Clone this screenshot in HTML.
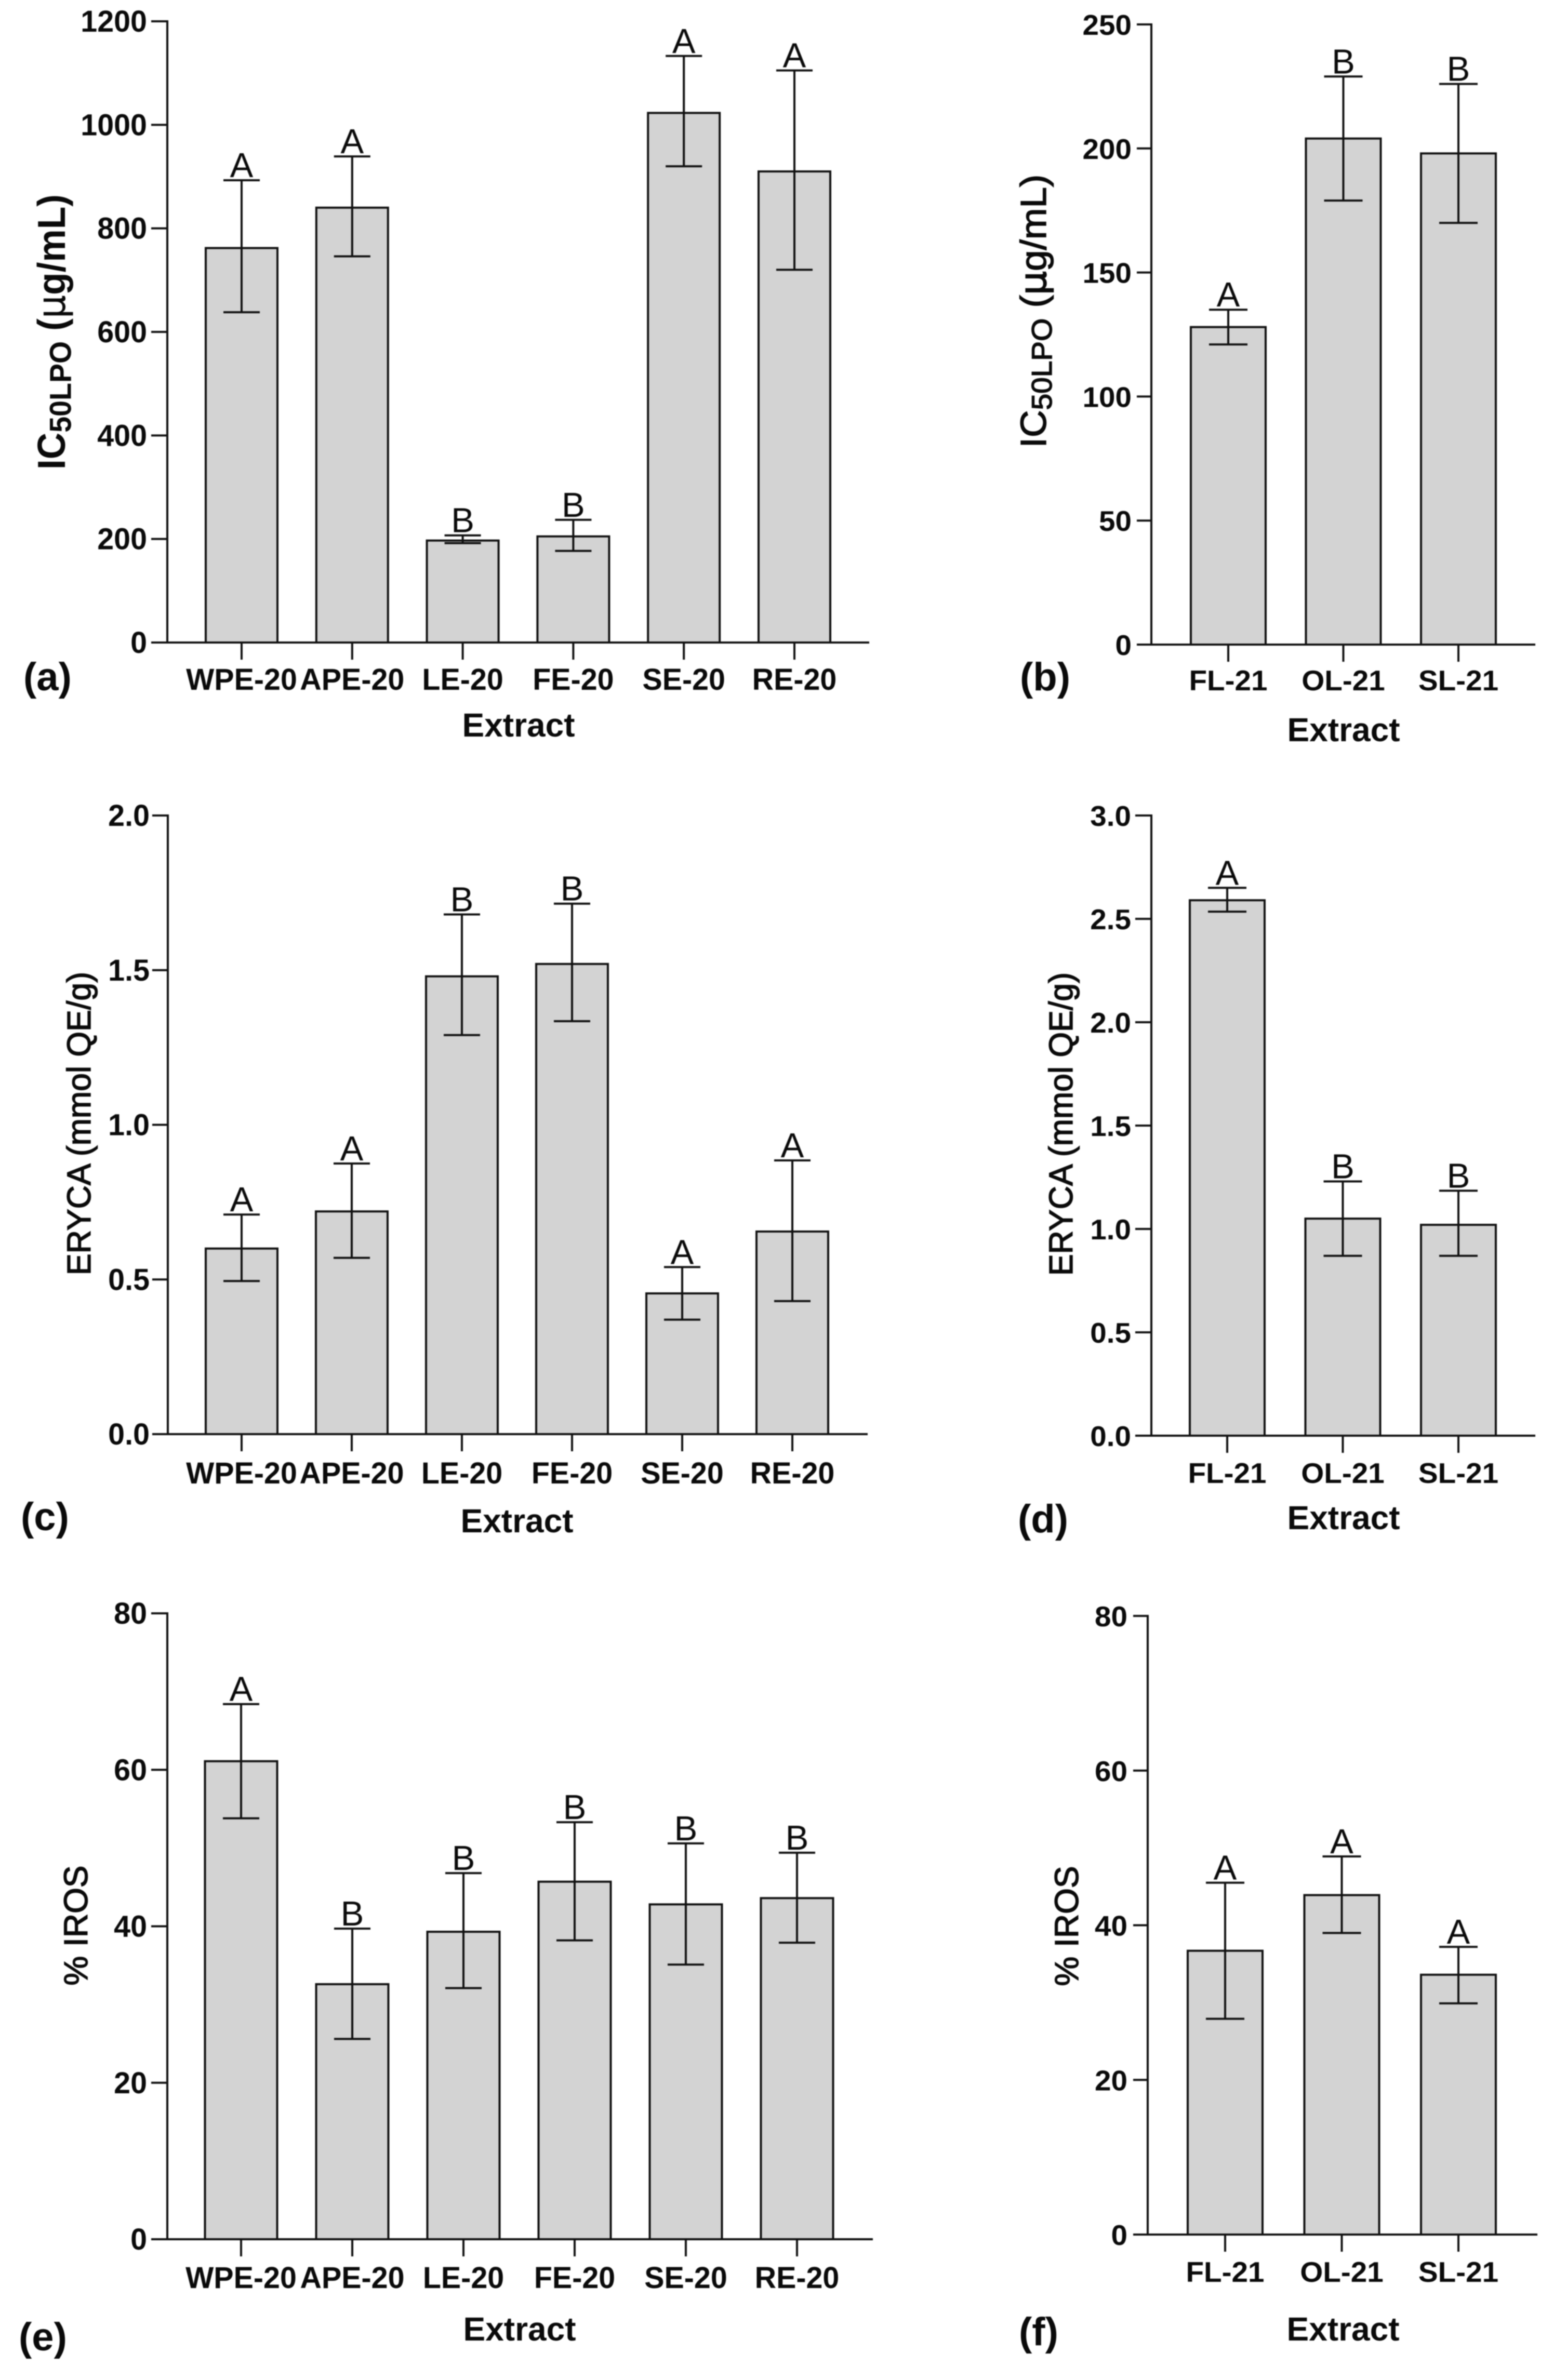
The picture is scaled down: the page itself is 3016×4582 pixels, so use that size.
<!DOCTYPE html>
<html lang="en">
<head>
<meta charset="utf-8">
<title>Antioxidant activity bar charts</title>
<style>
html,body{margin:0;padding:0;background:#fff;width:3016px;height:4582px;overflow:hidden}
svg{display:block;filter:blur(1px)}
text{font-family:"Liberation Sans",Arial,sans-serif;fill:#0a0a0a}
</style>
</head>
<body>
<svg id="figure" xmlns="http://www.w3.org/2000/svg" width="3016" height="4582" viewBox="0 0 3016 4582"></svg>
<script>
const cats20 = ['WPE-20','APE-20','LE-20','FE-20','SE-20','RE-20'];
const cats21 = ['FL-21','OL-21','SL-21'];

const aTicks = ['0','200','400','600','800','1000','1200'];
const aMeans = [762,840,197,205,1023,910];
const aUpper = [893,939,207,237,1133,1105];
const aLower = [638,746,192,177,920,720];
const aLetters = ['A','A','B','B','A','A'];

const bTicks = ['0','50','100','150','200','250'];
const bMeans = [128,204,198];
const bUpper = [135,229,226];
const bLower = [121,179,170];
const bLetters = ['A','B','B'];

const cTicks = ['0.0','0.5','1.0','1.5','2.0'];
const cMeans = [0.60,0.72,1.48,1.52,0.455,0.655];
const cUpper = [0.71,0.875,1.68,1.715,0.54,0.885];
const cLower = [0.495,0.57,1.29,1.335,0.37,0.43];
const cLetters = ['A','A','B','B','A','A'];

const dTicks = ['0.0','0.5','1.0','1.5','2.0','2.5','3.0'];
const dMeans = [2.59,1.05,1.02];
const dUpper = [2.65,1.23,1.185];
const dLower = [2.535,0.87,0.87];
const dLetters = ['A','B','B'];

const eTicks = ['0','20','40','60','80'];
const eMeans = [61.1,32.6,39.3,45.7,42.8,43.6];
const eUpper = [68.4,39.7,46.8,53.3,50.6,49.4];
const eLower = [53.8,25.6,32.1,38.2,35.1,37.9];
const eLetters = ['A','B','B','B','B','B'];

const fTicks = ['0','20','40','60','80'];
const fMeans = [36.7,43.9,33.6];
const fUpper = [45.5,48.9,37.2];
const fLower = [27.9,39,29.9];
const fLetters = ['A','A','A'];

const NS = 'http://www.w3.org/2000/svg';
const root = document.getElementById('figure');

function el(parent, tag, attrs) {
  const n = document.createElementNS(NS, tag);
  for (const k in attrs) n.setAttribute(k, attrs[k]);
  parent.appendChild(n);
  return n;
}
function line(parent, x1, y1, x2, y2, w, name) {
  const n = el(parent, 'line', {x1, y1, x2, y2, stroke:'#111', 'stroke-width':w});
  
  
  return n;
}
function label(parent, x, y, str, size, weight, anchor, sx, name) {
  const n = el(parent, 'text', {
    transform:'translate(' + x + ' ' + y + ') scale(' + sx + ' 1)',
    'font-size':size, 'font-weight':weight, 'text-anchor':anchor
  });
  n.textContent = str;
  
  
  return n;
}
function yTitle(parent, x, y, size, weight, sx, strokeW, markup, name) {
  const n = el(parent, 'text', {
    transform:'translate(' + x + ' ' + y + ') rotate(-90) scale(' + sx + ' 1)',
    'font-size':size, 'font-weight':weight, 'text-anchor':'middle',
    stroke:'#0a0a0a', 'stroke-width':strokeW
  });
  n.innerHTML = markup;
  
  
  return n;
}

const IC = 'IC<tspan font-size="0.78em" dy="0.2em">50LPO</tspan><tspan dy="-0.156em"> (</tspan><tspan font-family="DejaVu Sans" font-weight="normal">μ</tspan>g/mL)';
const ERY = 'ERYCA (mmol QE/g)';
const IROS = '% IROS';

function drawPanel(p) {
  const g = el(root, 'g', {});
  
  
  const maxV = Number(p.ticks[p.ticks.length - 1]);
  const yOf = v => p.y0 - (v / maxV) * (p.y0 - p.top);
  const xOf = i => p.first + i * p.step;

  p.means.forEach((m, i) => {
    const cx = xOf(i);
    const bar = el(g, 'rect', {x:cx - p.barW / 2, y:yOf(m), width:p.barW, height:p.y0 - yOf(m), fill:'#d3d3d3', stroke:'#111', 'stroke-width':4});
    
    
  });
  p.means.forEach((m, i) => {
    const cx = xOf(i), yu = yOf(p.upper[i]), yl = yOf(p.lower[i]);
    line(g, cx, yu, cx, yl, 4, 'error-bar-' + p.cats[i].toLowerCase());
    line(g, cx - p.cap, yu, cx + p.cap, yu, 4, 'error-cap-upper-' + p.cats[i].toLowerCase());
    line(g, cx - p.cap, yl, cx + p.cap, yl, 4, 'error-cap-lower-' + p.cats[i].toLowerCase());
    label(g, cx, yu - 6, p.letters[i], 67, 'normal', 'middle', 1, 'significance-letter-' + p.cats[i].toLowerCase());
    line(g, cx, p.y0, cx, p.y0 + 33, 4, 'x-tick-' + p.cats[i].toLowerCase());
    label(g, cx, p.xLabelY, p.cats[i], p.font, 'bold', 'middle', p.sx, 'x-tick-label-' + p.cats[i].toLowerCase());
  });

  line(g, p.axisX, p.top - 2, p.axisX, p.y0 + 2, 4, 'y-axis');
  line(g, p.tickL, p.y0, p.xEnd, p.y0, 4, 'x-axis');
  p.ticks.forEach(t => {
    const y = yOf(Number(t));
    line(g, p.tickL, y, p.axisX, y, 4, 'y-tick-' + t);
    label(g, p.yLabelX, y + 20, t, p.font, 'bold', 'end', p.sx, 'y-tick-label-' + t);
  });

  label(g, p.extractX, p.extractY, 'Extract', 64, 'bold', 'middle', 1, 'x-axis-title');
  label(g, p.tagX, p.tagY, '(' + p.id + ')', 76, 'bold', 'start', 1, 'panel-tag');
  yTitle(g, p.titleX, p.titleY, p.titleSize, p.titleWeight, p.titleSx, p.titleStroke, p.title, 'y-axis-title');
}

const panels = [
  {id:'a', cats:cats20, ticks:aTicks, means:aMeans, upper:aUpper, lower:aLower, letters:aLetters,
   y0:1237, top:41, axisX:322, tickL:291, xEnd:1673, first:465, step:212.8, barW:138, cap:35,
   font:58, sx:.99, yLabelX:283, xLabelY:1328, extractX:998, extractY:1418, tagX:45, tagY:1329,
   title:IC, titleX:125, titleY:639, titleSize:75, titleWeight:'bold', titleSx:.95, titleStroke:0},
  {id:'b', cats:cats21, ticks:bTicks, means:bMeans, upper:bUpper, lower:bLower, letters:bLetters,
   y0:1241, top:47, axisX:2216, tickL:2188, xEnd:2955, first:2364, step:221.5, barW:144, cap:37,
   font:55, sx:1.03, yLabelX:2178, xLabelY:1329, extractX:2586, extractY:1427, tagX:1963, tagY:1329,
   title:IC, titleX:2013, titleY:599, titleSize:70, titleWeight:'normal', titleSx:1.04, titleStroke:1.5},
  {id:'c', cats:cats20, ticks:cTicks, means:cMeans, upper:cUpper, lower:cLower, letters:cLetters,
   y0:2761, top:1570, axisX:323, tickL:293, xEnd:1670, first:465, step:212, barW:138, cap:35,
   font:58, sx:.99, yLabelX:288, xLabelY:2856, extractX:995, extractY:2950, tagX:40, tagY:2946,
   title:ERY, titleX:174, titleY:2163, titleSize:64, titleWeight:'normal', titleSx:.98, titleStroke:1.5},
  {id:'d', cats:cats21, ticks:dTicks, means:dMeans, upper:dUpper, lower:dLower, letters:dLetters,
   y0:2764, top:1570, axisX:2216, tickL:2185, xEnd:2955, first:2362, step:222.5, barW:144, cap:37,
   font:55, sx:1.03, yLabelX:2177, xLabelY:2855, extractX:2586, extractY:2944, tagX:1959, tagY:2950,
   title:ERY, titleX:2064, titleY:2164, titleSize:64, titleWeight:'normal', titleSx:.98, titleStroke:1.5},
  {id:'e', cats:cats20, ticks:eTicks, means:eMeans, upper:eUpper, lower:eLower, letters:eLetters,
   y0:4311, top:3106, axisX:322, tickL:291, xEnd:1680, first:464, step:214, barW:139, cap:35,
   font:58, sx:.99, yLabelX:283, xLabelY:4405, extractX:1000, extractY:4506, tagX:36, tagY:4525,
   title:IROS, titleX:168, titleY:3707, titleSize:64, titleWeight:'normal', titleSx:1, titleStroke:1.5},
  {id:'f', cats:cats21, ticks:fTicks, means:fMeans, upper:fUpper, lower:fLower, letters:fLetters,
   y0:4302, top:3111, axisX:2209, tickL:2181, xEnd:2959, first:2358, step:224.5, barW:144, cap:37,
   font:55, sx:1.03, yLabelX:2170, xLabelY:4393, extractX:2585, extractY:4506, tagX:1961, tagY:4515,
   title:IROS, titleX:2075, titleY:3708, titleSize:64, titleWeight:'normal', titleSx:1, titleStroke:1.5}
];
panels.forEach(drawPanel);
</script>
</body>
</html>
